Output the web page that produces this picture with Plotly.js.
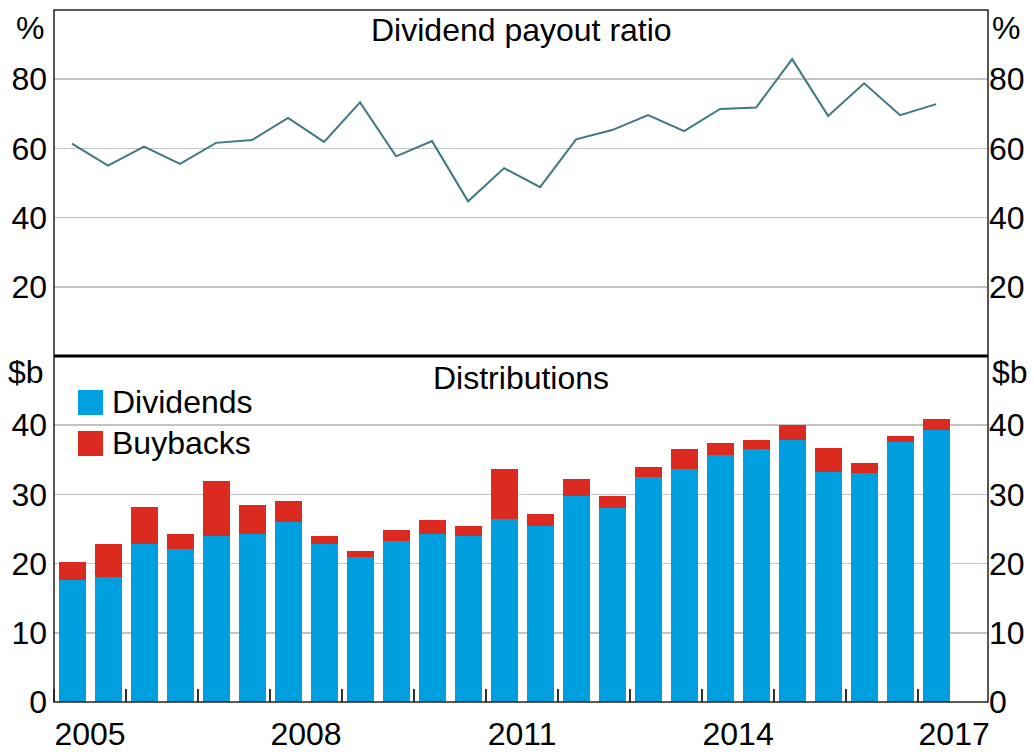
<!DOCTYPE html>
<html>
<head>
<meta charset="utf-8">
<script src="https://cdn.plot.ly/plotly-3.0.1.min.js"></script>
<style>
  html, body { margin: 0; padding: 0; background: #ffffff; }
  #chart { width: 1034px; height: 754px; }
</style>
</head>
<body>
<div id="chart"></div>
<script>
// Half-year periods (plotted at mid-point of each half year)
const periods = [2005.25, 2005.75, 2006.25, 2006.75, 2007.25, 2007.75, 2008.25, 2008.75,
                 2009.25, 2009.75, 2010.25, 2010.75, 2011.25, 2011.75, 2012.25, 2012.75,
                 2013.25, 2013.75, 2014.25, 2014.75, 2015.25, 2015.75, 2016.25, 2016.75, 2017.25];

// Dividend payout ratio, %
const payoutRatio = [61.4, 55.0, 60.5, 55.5, 61.6, 62.4, 68.8, 61.9, 73.3, 57.7, 62.1, 44.7, 54.3,
                     48.8, 62.6, 65.3, 69.6, 65.0, 71.4, 71.8, 85.8, 69.4, 78.8, 69.6, 72.8];

// Distributions, $b
const dividends = [17.6, 18.1, 22.9, 22.1, 24.0, 24.3, 26.0, 22.9, 21.0, 23.2, 24.3, 24.0, 26.5,
                   25.5, 29.7, 28.0, 32.5, 33.6, 35.7, 36.5, 37.9, 33.3, 33.1, 37.6, 39.3];
const buybacks  = [2.7, 4.8, 5.3, 2.2, 7.9, 4.2, 3.0, 1.1, 0.8, 1.7, 2.0, 1.4, 7.1,
                   1.6, 2.5, 1.7, 1.4, 2.9, 1.8, 1.4, 2.1, 3.4, 1.5, 0.8, 1.6];

const yearTickVals = [2005.5, 2008.5, 2011.5, 2014.5, 2017.5];
const yearTickText = ['2005', '2008', '2011', '2014', '2017'];
const pctTicks = [20, 40, 60, 80];
const bnTicks = [0, 10, 20, 30, 40];

const seriesNames = ['Dividends', 'Buybacks'];
const colDiv = '#009fdf';
const colBuy = '#dc2a20';
const colLine = '#3e7984';

const FONT = '"Liberation Sans", Arial, sans-serif';
const FS = 32;
const grid = '#c4c4c4';

const traces = [
  { type: 'bar', x: periods, y: dividends, name: seriesNames[0], marker: { color: colDiv, line: { width: 0 } },
    xaxis: 'x', yaxis: 'y', width: 0.375, showlegend: false },
  { type: 'bar', x: periods, y: buybacks, name: seriesNames[1], marker: { color: colBuy, line: { width: 0 } },
    xaxis: 'x', yaxis: 'y', width: 0.375, showlegend: false },
  { type: 'scatter', mode: 'lines', x: periods, y: payoutRatio, name: 'Dividend payout ratio',
    line: { color: colLine, width: 2 }, xaxis: 'x2', yaxis: 'y2', showlegend: false },
  // empty helper traces so that the right-hand (mirrored) axes are drawn
  { type: 'scatter', mode: 'lines', x: [], y: [], xaxis: 'x', yaxis: 'y3', showlegend: false, hoverinfo: 'skip' },
  { type: 'scatter', mode: 'lines', x: [], y: [], xaxis: 'x2', yaxis: 'y4', showlegend: false, hoverinfo: 'skip' }
];

const xr = [2005, 2017.97];
const axY = (domain, range, ticks, side, overlay, anchor) => {
  const a = {
    domain: domain, range: range, autorange: false, tickmode: 'array', tickvals: ticks, ticktext: ticks.map(String),
    side: side, anchor: anchor, showgrid: !overlay, gridcolor: grid, gridwidth: 1.5, zeroline: false,
    showline: false, ticks: '', fixedrange: true, ticklabelstandoff: side === 'left' ? 6 : 0,
    tickfont: { family: FONT, size: FS, color: '#000' }
  };
  if (overlay) { a.overlaying = overlay; }
  return a;
};

const layout = {
  width: 1034, height: 754,
  margin: { l: 54, r: 46, t: 10, b: 52 },
  paper_bgcolor: '#fff', plot_bgcolor: '#fff',
  barmode: 'stack',
  showlegend: false,
  font: { family: FONT, size: FS, color: '#000' },
  xaxis: {
    domain: [0, 1], anchor: 'y', range: xr, tickmode: 'array', tickvals: yearTickVals, ticktext: yearTickText,
    ticks: '', showgrid: false, zeroline: false, showline: false, ticklabelstandoff: 10,
    tickfont: { family: FONT, size: FS, color: '#000' },
    minor: { tickmode: 'linear', tick0: 2006, dtick: 1, ticks: 'inside', ticklen: 13, tickwidth: 1.5, tickcolor: '#333', showgrid: false }
  },
  xaxis2: { domain: [0, 1], anchor: 'y2', matches: 'x', range: xr, showticklabels: false, ticks: '',
            showgrid: false, zeroline: false, showline: false },
  yaxis: axY([0, 0.5], [0, 50], bnTicks, 'left', null, 'x'),
  yaxis2: axY([0.5, 1], [0, 100], pctTicks, 'left', null, 'x2'),
  yaxis3: axY([0, 0.5], [0, 50], bnTicks, 'right', 'y', 'x'),
  yaxis4: axY([0.5, 1], [0, 100], pctTicks, 'right', 'y2', 'x2'),
  shapes: [
    { type: 'rect', xref: 'paper', yref: 'paper', x0: 0, x1: 1, y0: 0, y1: 1, line: { color: '#222', width: 1.5 }, layer: 'above' },
    { type: 'line', xref: 'paper', yref: 'paper', x0: 0, x1: 1, y0: 0.5, y1: 0.5, line: { color: '#000', width: 3 }, layer: 'above' },
    { type: 'rect', xref: 'paper', yref: 'paper', x0: 0.0257, x1: 0.0525, y0: 0.4147, y1: 0.4509, fillcolor: colDiv, line: { width: 0 } },
    { type: 'rect', xref: 'paper', yref: 'paper', x0: 0.0257, x1: 0.0525, y0: 0.3555, y1: 0.3916, fillcolor: colBuy, line: { width: 0 } }
  ],
  annotations: [
    { text: 'Dividend payout ratio', xref: 'paper', yref: 'paper', x: 0.5, y: 0.971, xanchor: 'center', yanchor: 'middle', showarrow: false, font: { size: FS } },
    { text: 'Distributions', xref: 'paper', yref: 'paper', x: 0.5, y: 0.468, xanchor: 'center', yanchor: 'middle', showarrow: false, font: { size: FS } },
    { text: '%', xref: 'paper', yref: 'paper', x: 0, y: 0.974, xanchor: 'right', yanchor: 'middle', xshift: -8, showarrow: false, font: { size: FS } },
    { text: '%', xref: 'paper', yref: 'paper', x: 1, y: 0.974, xanchor: 'left', yanchor: 'middle', xshift: 2, showarrow: false, font: { size: FS } },
    { text: '$b', xref: 'paper', yref: 'paper', x: 0, y: 0.477, xanchor: 'right', yanchor: 'middle', xshift: -8, showarrow: false, font: { size: FS } },
    { text: '$b', xref: 'paper', yref: 'paper', x: 1, y: 0.477, xanchor: 'left', yanchor: 'middle', xshift: 2, showarrow: false, font: { size: FS } },
    { text: seriesNames[0], xref: 'paper', yref: 'paper', x: 0.06, y: 0.4335, xanchor: 'left', yanchor: 'middle', showarrow: false, font: { size: FS } },
    { text: seriesNames[1], xref: 'paper', yref: 'paper', x: 0.06, y: 0.3743, xanchor: 'left', yanchor: 'middle', showarrow: false, font: { size: FS } }
  ]
};

Plotly.newPlot('chart', traces, layout, { displayModeBar: false, staticPlot: true });
</script>
</body>
</html>
